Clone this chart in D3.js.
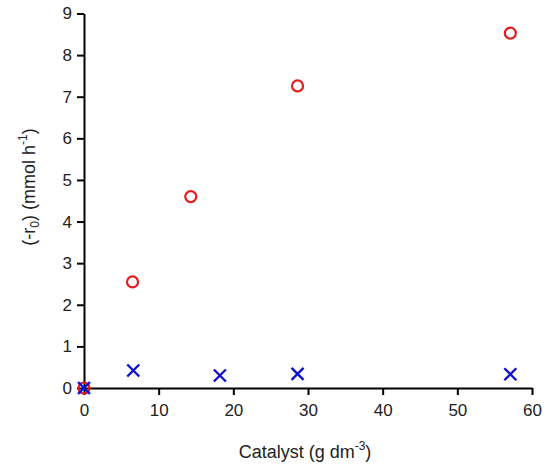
<!DOCTYPE html>
<html>
<head>
<meta charset="utf-8">
<script src="https://cdn.jsdelivr.net/npm/d3@7"></script>
<style>
  body { margin: 0; background: #fff; }
  text { font-family: "Liberation Sans", Arial, sans-serif; }
</style>
</head>
<body>
<div id="chart"></div>
<script>
// catalyst loading (g dm-3) and initial rate (mmol h-1)
const circleX = [0, 6.5, 14.3, 28.6, 57.1];
const circleY = [0, 2.55, 4.6, 7.26, 8.53];
const crossX = [0, 6.6, 18.2, 28.6, 57.1];
const crossY = [0, 0.42, 0.30, 0.34, 0.33];
const xTicks = [0, 10, 20, 30, 40, 50, 60];
const yTicks = [0, 1, 2, 3, 4, 5, 6, 7, 8, 9];

const W = 550, H = 469;
const margin = { top: 13.5, right: 18, bottom: 81, left: 84 };

const svg = d3.select("#chart").append("svg")
    .attr("width", W).attr("height", H);

const x = d3.scaleLinear().domain([0, 60]).range([margin.left, W - margin.right]);
const y = d3.scaleLinear().domain([0, 9]).range([H - margin.bottom, margin.top]);

const xAxis = svg.append("g")
    .attr("transform", `translate(0,${y(0)})`)
    .call(d3.axisBottom(x).tickValues(xTicks).tickSize(7).tickPadding(9).tickSizeOuter(0));
const yAxis = svg.append("g")
    .attr("transform", `translate(${x(0)},0)`)
    .call(d3.axisLeft(y).tickValues(yTicks).tickSize(7).tickPadding(5).tickSizeOuter(0));

[xAxis, yAxis].forEach(g => {
    g.select(".domain").attr("stroke", "#000").attr("stroke-width", 2);
    g.selectAll(".tick line").attr("stroke", "#000").attr("stroke-width", 2);
    g.selectAll(".tick text").attr("fill", "#222").style("font-size", "17px")
        .style("font-family", "'Liberation Sans', Arial, sans-serif");
});

// red circles
svg.append("g").selectAll("circle")
    .data(circleX.map((d, i) => [d, circleY[i]]))
    .join("circle")
    .attr("cx", d => x(d[0]))
    .attr("cy", d => y(d[1]))
    .attr("r", 5.5)
    .attr("fill", "none")
    .attr("stroke", "#e41a1c")
    .attr("stroke-width", 2.2);

// blue crosses
const s = 6;
svg.append("g").selectAll("path")
    .data(crossX.map((d, i) => [d, crossY[i]]))
    .join("path")
    .attr("transform", d => `translate(${x(d[0])},${y(d[1])})`)
    .attr("d", `M${-s},${-s}L${s},${s}M${-s},${s}L${s},${-s}`)
    .attr("fill", "none")
    .attr("stroke", "#1010d0")
    .attr("stroke-width", 2.4);

// axis titles
const xt = svg.append("text")
    .attr("x", 305).attr("y", 458)
    .attr("text-anchor", "middle")
    .attr("fill", "#222")
    .style("font-size", "18px");
xt.append("tspan").text("Catalyst (g dm");
xt.append("tspan").attr("dy", -8).style("font-size", "12px").text("-3");
xt.append("tspan").attr("dy", 8).text(")");

const yt = svg.append("text")
    .attr("transform", "translate(35,187) rotate(-90)")
    .attr("text-anchor", "middle")
    .attr("fill", "#222")
    .style("font-size", "18px");
yt.append("tspan").text("(-r");
yt.append("tspan").attr("dy", 4).style("font-size", "12px").text("0");
yt.append("tspan").attr("dy", -4).text(") (mmol h");
yt.append("tspan").attr("dy", -8).style("font-size", "12px").text("-1");
yt.append("tspan").attr("dy", 8).text(")");
</script>
</body>
</html>
